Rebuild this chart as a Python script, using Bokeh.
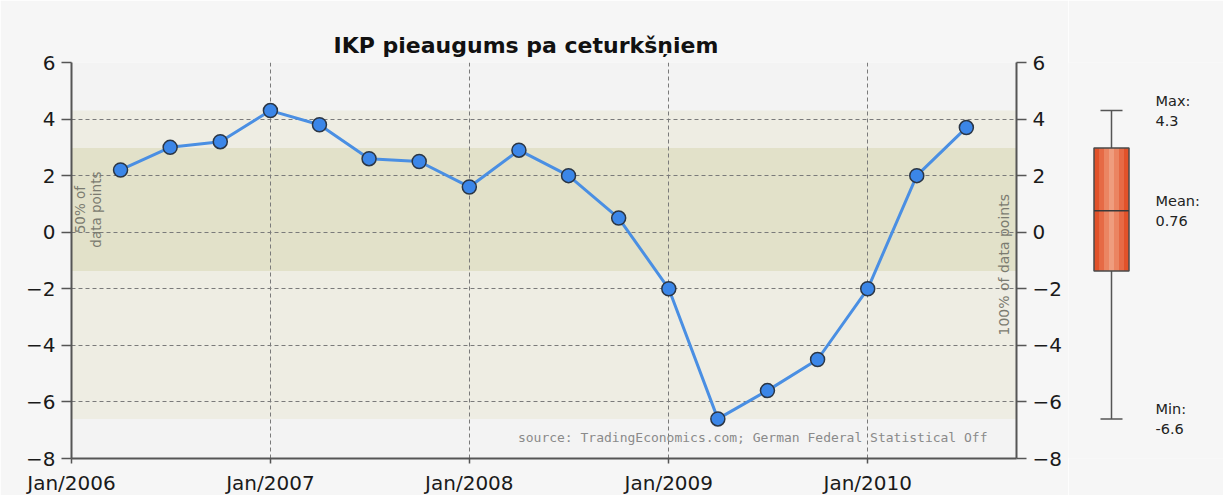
import numpy as np
import pandas as pd
from bokeh.plotting import figure
from bokeh.models import DatetimeTickFormatter, FixedTicker, LinearAxis, Range1d, BoxAnnotation
from bokeh.layouts import row
from bokeh.embed import file_html
from bokeh.resources import INLINE
from bokeh.core.properties import value

# ---------------- data ----------------
chart_title = "IKP pieaugums pa ceturkšņiem"
quarters = ["2006-04-01", "2006-07-01", "2006-10-01", "2007-01-01", "2007-04-01", "2007-07-01",
            "2007-10-01", "2008-01-01", "2008-04-01", "2008-07-01", "2008-10-01", "2009-01-01",
            "2009-04-01", "2009-07-01", "2009-10-01", "2010-01-01", "2010-04-01", "2010-07-01"]
growth = [2.2, 3.0, 3.2, 4.3, 3.8, 2.6, 2.5, 1.6, 2.9, 2.0, 0.5, -2.0, -6.6, -5.6, -4.5, -2.0, 2.0, 3.7]
year_ticks = ["2006-01-01", "2007-01-01", "2008-01-01", "2009-01-01", "2010-01-01"]
y_ticks = [-8, -6, -4, -2, 0, 2, 4, 6]
x_start, x_end = "2006-01-01", "2010-10-01"
source_note = "source: TradingEconomics.com; German Federal Statistical Off"
band50_label = "50% of\ndata points"
band100_label = "100% of data points"

# ---------------- derived stats ----------------
g = np.array(growth)
g_min, g_max = g.min(), g.max()
g_mean = g.mean()
q1, q3 = np.percentile(g, 25), np.percentile(g, 75)

dates = pd.to_datetime(quarters)
ms = lambda s: pd.Timestamp(s).value // 10**6
xs0, xs1 = ms(x_start), ms(x_end)

BG = "#f6f6f6"
PLOT_BG = "#f3f3f3"
TXT = "#1a1a1a"
FONT = "DejaVu Sans"

LEFT, FW, RIGHT = 71, 945, 52
p = figure(x_axis_type="datetime", frame_width=FW, frame_height=396,
           x_range=Range1d(xs0, xs1), y_range=Range1d(-8, 6),
           output_backend="svg", toolbar_location=None,
           min_border_left=LEFT, min_border_right=RIGHT, min_border_top=62, min_border_bottom=37,
           background_fill_color=PLOT_BG, border_fill_color=BG, outline_line_color=None)

p.title.text = chart_title
p.title.text_font = FONT
p.title.text_font_size = "22px"
p.title.text_font_style = "bold"
p.title.text_color = "#111111"
p.title.align = "left"
p.title.offset = 262
p.title.standoff = 10

# bands
p.add_layout(BoxAnnotation(bottom=g_min, top=g_max, fill_color="#eeede3", fill_alpha=1,
                           line_color=None, level="image"))
p.add_layout(BoxAnnotation(bottom=q1, top=q3, fill_color="#e2e1c9", fill_alpha=1,
                           line_color=None, level="image"))

# axes
p.xaxis.ticker = FixedTicker(ticks=[ms(t) for t in year_ticks])
p.xaxis.formatter = DatetimeTickFormatter(years="%b/%Y", months="%b/%Y", days="%b/%Y")
p.yaxis.ticker = FixedTicker(ticks=y_ticks)
ra = LinearAxis(ticker=FixedTicker(ticks=y_ticks))
p.add_layout(ra, "right")

for ax in p.axis:
    ax.axis_line_color = "#555555"
    ax.axis_line_width = 2
    ax.major_tick_line_color = "#555555"
    ax.major_tick_line_width = 1.5
    ax.major_tick_in = 0
    ax.minor_tick_line_color = None
    ax.major_label_text_font = FONT
    ax.major_label_text_font_size = "20px"
    ax.major_label_text_color = TXT
p.xaxis.major_tick_out = 5
p.xaxis.major_label_standoff = 7
p.yaxis.major_tick_out = 10
p.yaxis.major_label_standoff = 6

for gr in (p.xgrid, p.ygrid):
    gr.grid_line_color = "#7a7a7a"
    gr.grid_line_dash = "4 3"
    gr.grid_line_width = 1
p.xgrid.ticker = FixedTicker(ticks=[ms(t) for t in year_ticks])
p.ygrid.ticker = FixedTicker(ticks=y_ticks)

# series
p.line(dates, growth, line_color="#4a8fe3", line_width=3)
p.scatter(dates, growth, size=14, fill_color="#3b86e8", line_color="#2b3645", line_width=1.5)

# labels inside frame
p.text(x=[xs0], y=[(q1 + q3) / 2], text=[band50_label], angle=np.pi / 2, x_offset=16,
       text_align="center", text_baseline="middle", text_font=value(FONT),
       text_font_size="13.5px", text_color="#7b7b70", text_line_height=1.0)
p.text(x=[xs1], y=[(g_min + g_max) / 2], text=[band100_label], angle=np.pi / 2, x_offset=-13,
       text_align="center", text_baseline="middle", text_font=value(FONT),
       text_font_size="14px", text_color="#7b7b70")
p.text(x=[xs1], y=[-8], text=[source_note], x_offset=-29, y_offset=-21,
       text_align="right", text_baseline="middle", text_font=value("DejaVu Sans Mono"),
       text_font_size="13px", text_color="#8a8a8a")

# ---------------- box-plot panel ----------------
x0_abs = LEFT + FW + RIGHT
pw = 1223 - x0_abs
p2 = figure(frame_width=pw, frame_height=396, x_range=Range1d(x0_abs, 1223), y_range=p.y_range,
            output_backend="svg", toolbar_location=None,
            min_border_left=0, min_border_right=0, min_border_top=62, min_border_bottom=37,
            background_fill_color=BG, border_fill_color=BG, outline_line_color=None,
            x_axis_location=None, y_axis_location=None)
p2.xgrid.visible = False
p2.ygrid.visible = False

cx, half = 1111, 17.5
p2.segment(x0=[cx, cx], y0=[q3, q1], x1=[cx, cx], y1=[g_max, g_min], line_color="#555555", line_width=1.5)
p2.segment(x0=[cx - 11, cx - 11], y0=[g_max, g_min], x1=[cx + 11, cx + 11], y1=[g_max, g_min],
           line_color="#555555", line_width=1.5)
strip_cols = ["#e1522a", "#e66a45", "#eb8562", "#ef9d7e", "#eb8562", "#e66a45", "#e1522a"]
n = len(strip_cols)
edges = np.linspace(cx - half, cx + half, n + 1)
p2.quad(left=edges[:-1], right=edges[1:], bottom=[q1] * n, top=[q3] * n,
        fill_color=strip_cols, line_color=None)
p2.quad(left=[cx - half], right=[cx + half], bottom=[q1], top=[q3], fill_color=None,
        line_color="#4a4a4a", line_width=1.5)
p2.segment(x0=[cx - half], y0=[g_mean], x1=[cx + half], y1=[g_mean], line_color="#3a3a3a", line_width=1.5)

p2.text(x=[1155] * 3, y=[g_max, g_mean, g_min],
        text=[f"Max:\n{g_max:.1f}", f"Mean:\n{g_mean:.2f}", f"Min:\n{g_min:.1f}"],
        text_align="left", text_baseline="middle", text_font=value(FONT),
        text_font_size="14.5px", text_color="#222222", text_line_height=1.25)

layout = row(p, p2)
open("out.html", "w").write(file_html(layout, INLINE))
